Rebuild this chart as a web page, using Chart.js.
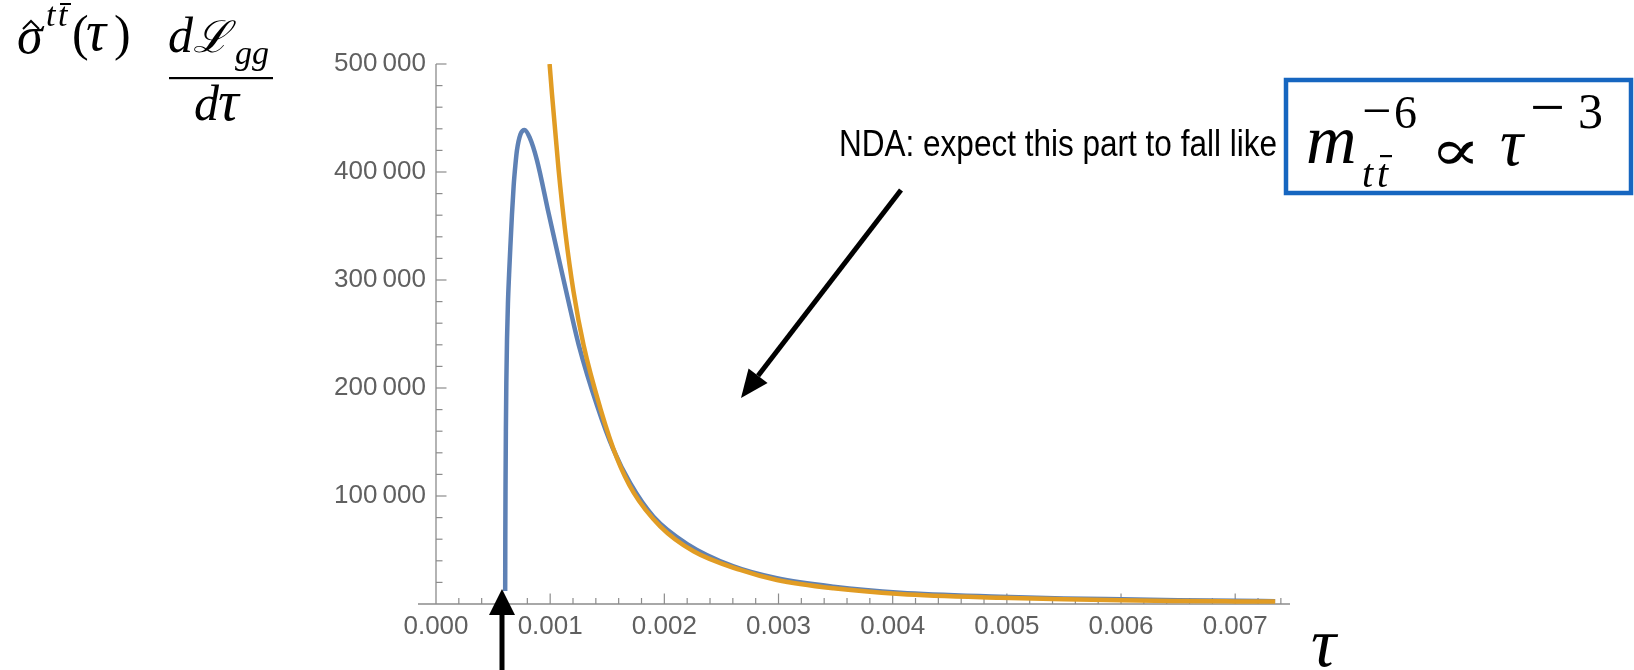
<!DOCTYPE html>
<html>
<head>
<meta charset="utf-8">
<script src="https://cdn.jsdelivr.net/npm/chart.js@4.4.0/dist/chart.umd.min.js"></script>
<style>
  html, body { margin: 0; padding: 0; background: #fff; }
  canvas { display: block; }
</style>
</head>
<body>
<canvas id="chart" width="1634" height="670"></canvas>
<script>
// sigma-hat(tau) * dL_gg/dtau
const blueTau = [0.000606, 0.000607, 0.000609, 0.000612, 0.000616, 0.000622, 0.000630, 0.000640, 0.000651, 0.000665,
  0.000680, 0.000695, 0.000709, 0.000740, 0.000776, 0.000820, 0.000884, 0.000986, 0.001088, 0.001176,
  0.00125, 0.00141, 0.001555, 0.001701, 0.001905, 0.0022, 0.0026, 0.002986, 0.003482, 0.004066,
  0.004942, 0.0055, 0.006, 0.0065, 0.007, 0.00735];
const blueValues = [12000, 60000, 110000, 160000, 205000, 245000, 278000, 305000, 330000, 360000,
  387000, 406000, 420000, 435000, 439000, 432000, 411000, 362000, 314000, 273000,
  240000, 184000, 142600, 111800, 80800, 55500, 35000, 23800, 16000, 10500,
  6800, 5200, 4300, 3500, 2900, 2600];

// tau^-3 comparison curve
const orangeTau = [0.000995, 0.001016, 0.001074, 0.001132, 0.001205, 0.001292, 0.00144, 0.001585, 0.00173, 0.001964,
  0.002256, 0.002665, 0.002986, 0.003482, 0.004066, 0.004942, 0.0055, 0.006, 0.0065, 0.007, 0.00735];
const orangeValues = [500000, 472000, 402000, 345000, 289000, 240000, 181000, 135000, 103300, 71900,
  48800, 31500, 22200, 14500, 9300, 5800, 4400, 3400, 2800, 2400, 2200];

const xMajorTicks = [0, 0.001, 0.002, 0.003, 0.004, 0.005, 0.006, 0.007];
const xTickLabels = ["0.000", "0.001", "0.002", "0.003", "0.004", "0.005", "0.006", "0.007"];
const yMajorTicks = [100000, 200000, 300000, 400000, 500000];
const yTickLabels = ["100\u2009000", "200\u2009000", "300\u2009000", "400\u2009000", "500\u2009000"];

const xMax = 0.00748;
const yMax = 500000;
const axisColor = "#8c8c8c";

const toPoints = (xs, ys) => xs.map((x, i) => ({ x, y: ys[i] }));

function put(ctx, s, x, y, size, opts = {}) {
  ctx.save();
  ctx.font = (opts.italic ? "italic " : "") + size + "px " + (opts.family || '"Liberation Serif"');
  ctx.fillStyle = opts.color || "#000";
  ctx.textBaseline = "alphabetic";
  ctx.translate(x, y);
  ctx.scale(opts.sx || 1, 1);
  if (opts.maxWidth) ctx.fillText(s, 0, 0, opts.maxWidth);
  else ctx.fillText(s, 0, 0);
  ctx.restore();
}

function arrow(ctx, x1, y1, x2, y2, w, headLen, headHalf) {
  const a = Math.atan2(y2 - y1, x2 - x1);
  const bx = x2 - headLen * Math.cos(a), by = y2 - headLen * Math.sin(a);
  ctx.save();
  ctx.strokeStyle = "#000";
  ctx.fillStyle = "#000";
  ctx.lineWidth = w;
  ctx.beginPath();
  ctx.moveTo(x1, y1);
  ctx.lineTo(bx, by);
  ctx.stroke();
  ctx.beginPath();
  ctx.moveTo(x2, y2);
  ctx.lineTo(bx + headHalf * Math.sin(a), by - headHalf * Math.cos(a));
  ctx.lineTo(bx - headHalf * Math.sin(a), by + headHalf * Math.cos(a));
  ctx.closePath();
  ctx.fill();
  ctx.restore();
}

const decor = {
  id: "decor",
  beforeDatasetsDraw(chart) {
    const { ctx, scales: { x, y } } = chart;
    const x0 = x.getPixelForValue(0);
    const y0 = y.getPixelForValue(0);
    ctx.save();
    ctx.strokeStyle = axisColor;
    ctx.lineWidth = 1.3;
    ctx.beginPath();
    ctx.moveTo(x.left - 18, y0);
    ctx.lineTo(x.right, y0);
    ctx.moveTo(x0, y0);
    ctx.lineTo(x0, y.getPixelForValue(yMax));
    ctx.stroke();

    // minor + major tick marks, drawn inward like Mathematica
    ctx.lineWidth = 1.2;
    for (let i = 1; i <= 37; i++) {
      const px = x.getPixelForValue(i * 0.0002);
      const len = i % 5 === 0 ? 10.5 : 6;
      ctx.beginPath();
      ctx.moveTo(px, y0);
      ctx.lineTo(px, y0 - len);
      ctx.stroke();
    }
    for (let i = 1; i <= 25; i++) {
      const py = y.getPixelForValue(i * 20000);
      const len = i % 5 === 0 ? 10.5 : 6.5;
      ctx.beginPath();
      ctx.moveTo(x0, py);
      ctx.lineTo(x0 + len, py);
      ctx.stroke();
    }
    ctx.restore();
  },
  afterDraw(chart) {
    const ctx = chart.ctx;

    // y-axis title: sigma-hat^{t tbar}(tau) dL_gg / dtau
    put(ctx, "\u03C3", 17, 53, 52, { italic: true });
    ctx.save();
    ctx.strokeStyle = "#000";
    ctx.lineWidth = 2;
    ctx.beginPath();
    ctx.moveTo(23, 29); ctx.lineTo(31, 21); ctx.lineTo(39, 29);
    ctx.stroke();
    ctx.restore();
    put(ctx, "t", 46, 26, 34, { italic: true });
    put(ctx, "t", 58, 26, 34, { italic: true });
    ctx.fillRect(60, 3, 11, 2);
    put(ctx, "(", 72, 50, 50);
    put(ctx, "\u03C4", 86, 50, 56, { italic: true });
    put(ctx, ")", 114, 50, 50);
    put(ctx, "d", 168, 52, 50, { italic: true });
    put(ctx, "\u2112", 193, 52, 44, { italic: true, family: '"DejaVu Serif"' });
    put(ctx, "gg", 235, 64, 34, { italic: true });
    ctx.fillRect(169, 77, 104, 2.2);
    put(ctx, "d", 194, 120, 50, { italic: true });
    put(ctx, "\u03C4", 218, 120, 58, { italic: true });

    // x-axis title
    put(ctx, "\u03C4", 1311, 666, 70, { italic: true });

    // annotation text + boxed formula
    put(ctx, "NDA: expect this part to fall like", 839, 156, 36,
      { family: '"Liberation Sans"', maxWidth: 438 });
    ctx.save();
    ctx.strokeStyle = "#1666c0";
    ctx.lineWidth = 4.5;
    ctx.strokeRect(1286, 80, 345, 113);
    ctx.restore();
    put(ctx, "m", 1306, 163, 70, { italic: true });
    put(ctx, "\u2212", 1362, 128, 52);
    put(ctx, "6", 1394, 128, 46);
    put(ctx, "t", 1362, 187, 40, { italic: true });
    put(ctx, "t", 1377, 187, 40, { italic: true });
    ctx.fillRect(1380, 155, 12, 2.2);
    put(ctx, "\u221D", 1430, 170, 58, { family: '"DejaVu Serif"', sx: 1.3 });
    put(ctx, "\u03C4", 1500, 165, 68, { italic: true, sx: 0.95 });
    put(ctx, "\u2212", 1530, 128, 62);
    put(ctx, "3", 1578, 128, 50);

    // arrows
    arrow(ctx, 901, 190, 741, 398, 5, 28, 12);
    arrow(ctx, 502, 672, 502, 589, 5, 26, 13);
  }
};

new Chart(document.getElementById("chart"), {
  type: "line",
  data: {
    datasets: [
      {
        label: "tau^-3",
        data: toPoints(orangeTau, orangeValues),
        borderColor: "#E19C24",
        order: 0
      },
      {
        label: "sigma dL/dtau",
        data: toPoints(blueTau, blueValues),
        borderColor: "#5E81B5",
        order: 1
      }
    ]
  },
  options: {
    responsive: false,
    animation: false,
    devicePixelRatio: 1,
    layout: { padding: { left: 0, right: 344, top: 64, bottom: 0 } },
    plugins: { legend: { display: false }, tooltip: { enabled: false } },
    elements: {
      point: { radius: 0 },
      line: { borderWidth: 4.5, cubicInterpolationMode: "monotone", fill: false }
    },
    scales: {
      x: {
        type: "linear",
        min: 0,
        max: xMax,
        afterBuildTicks: (a) => { a.ticks = xMajorTicks.map((v) => ({ value: v })); },
        afterFit: (a) => { a.height = 66; },
        grid: { display: false, drawTicks: false },
        border: { display: false },
        ticks: {
          callback: (v, i) => xTickLabels[i],
          color: "#606060",
          font: { family: "Liberation Sans", size: 26 },
          padding: 7,
          maxRotation: 0,
          autoSkip: false
        }
      },
      y: {
        type: "linear",
        min: 0,
        max: yMax,
        afterBuildTicks: (a) => { a.ticks = yMajorTicks.map((v) => ({ value: v })); },
        afterFit: (a) => { a.width = 436; },
        grid: { display: false, drawTicks: false },
        border: { display: false },
        ticks: {
          callback: (v, i) => yTickLabels[i],
          color: "#606060",
          font: { family: "Liberation Sans", size: 26 },
          padding: 10,
          autoSkip: false
        }
      }
    }
  },
  plugins: [decor]
});
</script>
</body>
</html>
